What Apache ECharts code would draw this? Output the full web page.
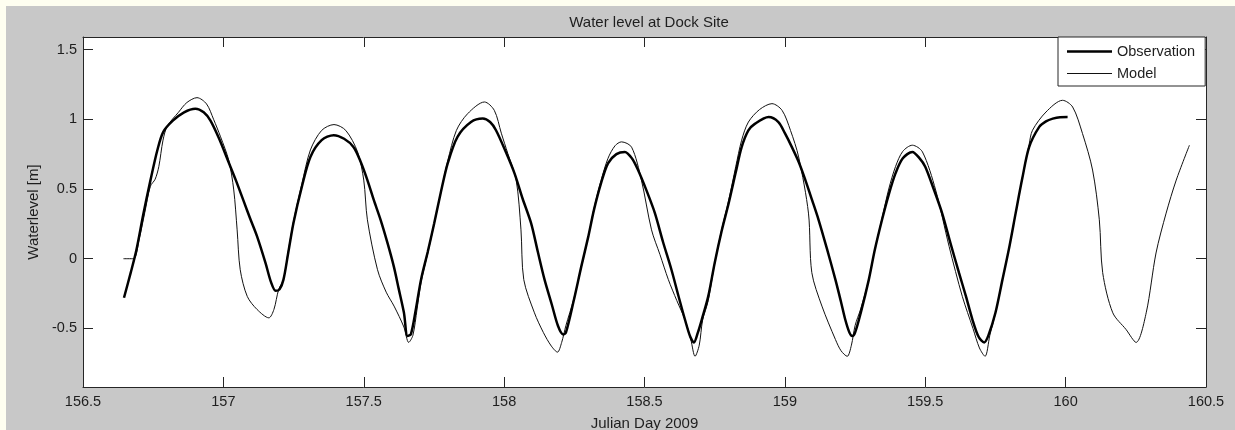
<!DOCTYPE html>
<html>
<head>
<meta charset="utf-8">
<title>Water level at Dock Site</title>
<script src="https://cdn.jsdelivr.net/npm/echarts@6/dist/echarts.min.js"></script>
<style>
  html, body { margin: 0; padding: 0; background: #fefef0; }
  #panel { position: absolute; left: 6px; top: 6px; width: 1229px; height: 424px; background: #c8c8c8; }
  #chart { position: absolute; left: 0; top: 0; width: 1235px; height: 430px; }
</style>
</head>
<body>
<div id="panel"></div>
<div id="chart"></div>
<script>
// Values (Julian day, metres)
const obsDays = [
  156.646, 156.67, 156.69, 156.715, 156.74, 156.765, 156.786, 156.82, 156.86, 156.90,
  156.93, 156.954, 156.985, 157.018, 157.045, 157.071, 157.095, 157.12, 157.15, 157.17,
  157.186, 157.20, 157.214, 157.23, 157.25, 157.28, 157.31, 157.35, 157.393, 157.43,
  157.464, 157.49, 157.513, 157.536, 157.56, 157.585, 157.607, 157.625, 157.643, 157.656,
  157.668, 157.685, 157.704, 157.728, 157.751, 157.775, 157.799, 157.834, 157.882, 157.924,
  157.95, 157.971, 158.005, 158.037, 158.066, 158.096, 158.12, 158.144, 158.17, 158.192,
  158.21, 158.22, 158.248, 158.275, 158.30, 158.32, 158.345, 158.37, 158.40, 158.43,
  158.455, 158.477, 158.507, 158.537, 158.566, 158.596, 158.62, 158.644, 158.663, 158.676,
  158.69, 158.705, 158.727, 158.75, 158.775, 158.80, 158.825, 158.846, 158.87, 158.894,
  158.942, 158.977, 159.0, 159.025, 159.05, 159.073, 159.097, 159.12, 159.15, 159.18,
  159.20, 159.215, 159.23, 159.24, 159.25, 159.27, 159.299, 159.32, 159.346, 159.37,
  159.394, 159.42, 159.454, 159.48, 159.50, 159.53, 159.56, 159.59, 159.62, 159.645,
  159.668, 159.69, 159.71, 159.725, 159.75, 159.775, 159.80, 159.822, 159.846, 159.87,
  159.906, 159.93, 159.954, 159.98, 160.007
];
const obsLevel = [
  -0.28, -0.10, 0.06, 0.32, 0.56, 0.78, 0.91, 0.99, 1.05, 1.076,
  1.05, 0.99, 0.86, 0.695, 0.56, 0.42, 0.29, 0.16, -0.03, -0.17,
  -0.23, -0.22, -0.15, 0.03, 0.26, 0.52, 0.73, 0.85, 0.886, 0.86,
  0.80, 0.69, 0.564, 0.42, 0.279, 0.11, -0.055, -0.22, -0.386, -0.555,
  -0.54, -0.37, -0.15, 0.05, 0.255, 0.48, 0.684, 0.874, 0.98, 1.005,
  0.98, 0.921, 0.77, 0.612, 0.43, 0.255, 0.05, -0.15, -0.33, -0.483,
  -0.543, -0.53, -0.30, -0.055, 0.16, 0.35, 0.54, 0.684, 0.75, 0.766,
  0.72, 0.636, 0.49, 0.327, 0.12, -0.079, -0.26, -0.436, -0.56, -0.60,
  -0.53, -0.43, -0.27, -0.03, 0.20, 0.40, 0.62, 0.80, 0.92, 0.969,
  1.016, 0.98, 0.90, 0.80, 0.69, 0.564, 0.42, 0.279, 0.07, -0.15,
  -0.31, -0.436, -0.53, -0.555, -0.53, -0.39, -0.15, 0.06, 0.279, 0.46,
  0.612, 0.72, 0.766, 0.72, 0.66, 0.50, 0.327, 0.11, -0.10, -0.27,
  -0.436, -0.56, -0.60, -0.55, -0.388, -0.15, 0.09, 0.327, 0.58, 0.80,
  0.945, 0.985, 1.005, 1.015, 1.016
];

const modelDays = [
  156.644, 156.68, 156.70, 156.72, 156.74, 156.757, 156.77, 156.785, 156.80, 156.84,
  156.87, 156.906, 156.94, 156.965, 156.99, 157.019, 157.037, 157.049, 157.06, 157.085,
  157.12, 157.162, 157.18, 157.197, 157.214, 157.23, 157.25, 157.28, 157.31, 157.35,
  157.394, 157.436, 157.478, 157.50, 157.513, 157.549, 157.58, 157.608, 157.643, 157.66,
  157.675, 157.69, 157.704, 157.728, 157.751, 157.775, 157.799, 157.83, 157.87, 157.93,
  157.965, 157.99, 158.013, 158.043, 158.06, 158.07, 158.108, 158.14, 158.168, 158.19,
  158.205, 158.22, 158.248, 158.275, 158.30, 158.32, 158.345, 158.37, 158.395, 158.418,
  158.454, 158.489, 158.525, 158.555, 158.585, 158.615, 158.644, 158.665, 158.68, 158.695,
  158.707, 158.727, 158.75, 158.775, 158.80, 158.825, 158.846, 158.87, 158.91, 158.954,
  158.99, 159.02, 159.049, 159.084, 159.096, 159.132, 159.18, 159.20, 159.222, 159.237,
  159.25, 159.27, 159.299, 159.32, 159.346, 159.37, 159.394, 159.42, 159.454, 159.49,
  159.537, 159.585, 159.632, 159.67, 159.693, 159.713, 159.73, 159.75, 159.775, 159.80,
  159.822, 159.846, 159.87, 159.882, 159.93, 159.989, 160.025, 160.06, 160.096, 160.12,
  160.132, 160.168, 160.215, 160.251, 160.287, 160.322, 160.358, 160.394, 160.441
];
const modelLevel = [
  0.0, 0.0, 0.14, 0.33, 0.52, 0.57, 0.66, 0.85, 0.95, 1.05,
  1.12, 1.155, 1.11, 1.0, 0.874, 0.707, 0.493, 0.207, -0.079, -0.27,
  -0.364, -0.424, -0.364, -0.22, -0.15, 0.04, 0.27, 0.54, 0.78, 0.92,
  0.962, 0.92, 0.766, 0.564, 0.279, -0.079, -0.24, -0.34, -0.49, -0.60,
  -0.55, -0.36, -0.17, 0.04, 0.25, 0.48, 0.70, 0.92, 1.04, 1.124,
  1.064, 0.90, 0.755, 0.564, 0.207, -0.15, -0.388, -0.53, -0.626, -0.67,
  -0.60, -0.48, -0.29, -0.06, 0.16, 0.36, 0.56, 0.72, 0.81, 0.838,
  0.80, 0.564, 0.207, 0.03, -0.15, -0.30, -0.436, -0.58, -0.70, -0.62,
  -0.44, -0.30, -0.03, 0.21, 0.42, 0.66, 0.85, 0.98, 1.07, 1.112,
  1.064, 0.92, 0.73, 0.327, -0.1, -0.34, -0.579, -0.66, -0.70, -0.62,
  -0.48, -0.36, -0.15, 0.06, 0.29, 0.50, 0.66, 0.77, 0.814, 0.766,
  0.493, 0.088, -0.27, -0.50, -0.64, -0.70, -0.55, -0.39, -0.15, 0.09,
  0.327, 0.58, 0.82, 0.921, 1.052, 1.136, 1.088, 0.898, 0.636, 0.279,
  -0.1, -0.388, -0.507, -0.60, -0.388, 0.041, 0.327, 0.564, 0.814
];

const yTicks = [-0.5, 0, 0.5, 1, 1.5];
const xMin = 156.5, xMax = 160.5, xStep = 0.5;

const ink = '#262626';
const textInk = '#1e1e1e';
const font = '"Liberation Sans", Arial, sans-serif';

// legend icons: 45x14 box with a horizontal band (tiny corner specks keep the box size)
const corners = 'M0,0L0.01,0L0,0.01Z M45,14L44.99,14L45,13.99Z ';
const thickIcon = 'path://' + corners + 'M0,5.75H45V8.25H0Z';
const thinIcon = 'path://' + corners + 'M0,6.5H45V7.5H0Z';

function pairs(xs, ys) {
  return xs.map((x, i) => [x, ys[i]]);
}

const chart = echarts.init(document.getElementById('chart'), null, { renderer: 'canvas' });

const xBase = {
  type: 'value', min: xMin, max: xMax, interval: xStep,
  axisLine: { show: true, onZero: false, lineStyle: { color: ink, width: 1 } },
  axisTick: { show: true, inside: true, length: 10, lineStyle: { color: ink } },
  splitLine: { show: false },
};
const yBase = {
  type: 'value', min: -0.92, max: 1.59,
  axisLine: { show: true, onZero: false, lineStyle: { color: ink, width: 1 } },
  axisTick: { show: true, inside: true, length: 10, customValues: yTicks, lineStyle: { color: ink } },
  splitLine: { show: false },
};

chart.setOption({
  animation: false,
  backgroundColor: 'transparent',
  textStyle: { fontFamily: font },
  title: {
    text: 'Water level at Dock Site',
    left: 644, top: 10, textAlign: 'center',
    textStyle: { fontSize: 15, fontWeight: 'normal', color: textInk, fontFamily: font },
  },
  grid: {
    left: 83, top: 37, right: 29, bottom: 43, outerBoundsMode: 'none',
    show: true, backgroundColor: '#ffffff', borderWidth: 0,
  },
  legend: {
    orient: 'vertical', left: 1058, top: 37,
    backgroundColor: '#ffffff', borderColor: ink, borderWidth: 1, borderRadius: 0,
    padding: [7, 10, 5, 9], itemWidth: 45, itemHeight: 14, itemGap: 7,
    symbolKeepAspect: false,
    textStyle: { fontSize: 14.5, color: textInk, fontFamily: font },
    data: [
      { name: 'Observation', icon: thickIcon, itemStyle: { color: '#000000' } },
      { name: 'Model', icon: thinIcon, itemStyle: { color: '#111111' } },
    ],
  },
  xAxis: [
    Object.assign({}, xBase, {
      position: 'bottom',
      name: 'Julian Day 2009', nameLocation: 'middle', nameGap: 29,
      nameTextStyle: { fontSize: 15, color: textInk },
      axisLabel: { show: true, fontSize: 14.5, color: textInk, margin: 7 },
    }),
    Object.assign({}, xBase, { position: 'top', axisLabel: { show: false } }),
  ],
  yAxis: [
    Object.assign({}, yBase, {
      position: 'left',
      name: 'Waterlevel [m]', nameLocation: 'middle', nameGap: 42,
      nameTextStyle: { fontSize: 15, color: textInk },
      axisLabel: { show: true, fontSize: 14.5, color: textInk, margin: 6, customValues: yTicks },
    }),
    Object.assign({}, yBase, { position: 'right', axisLabel: { show: false } }),
  ],
  series: [
    {
      name: 'Observation', type: 'line', symbol: 'none', smooth: 0.3,
      xAxisIndex: 0, yAxisIndex: 0,
      lineStyle: { color: '#000000', width: 2.5 }, itemStyle: { color: '#000000' },
      data: pairs(obsDays, obsLevel), z: 3,
    },
    {
      name: 'Model', type: 'line', symbol: 'none', smooth: 0.3,
      xAxisIndex: 0, yAxisIndex: 0,
      lineStyle: { color: '#111111', width: 1 }, itemStyle: { color: '#111111' },
      data: pairs(modelDays, modelLevel), z: 2,
    },
  ],
});
</script>
</body>
</html>
